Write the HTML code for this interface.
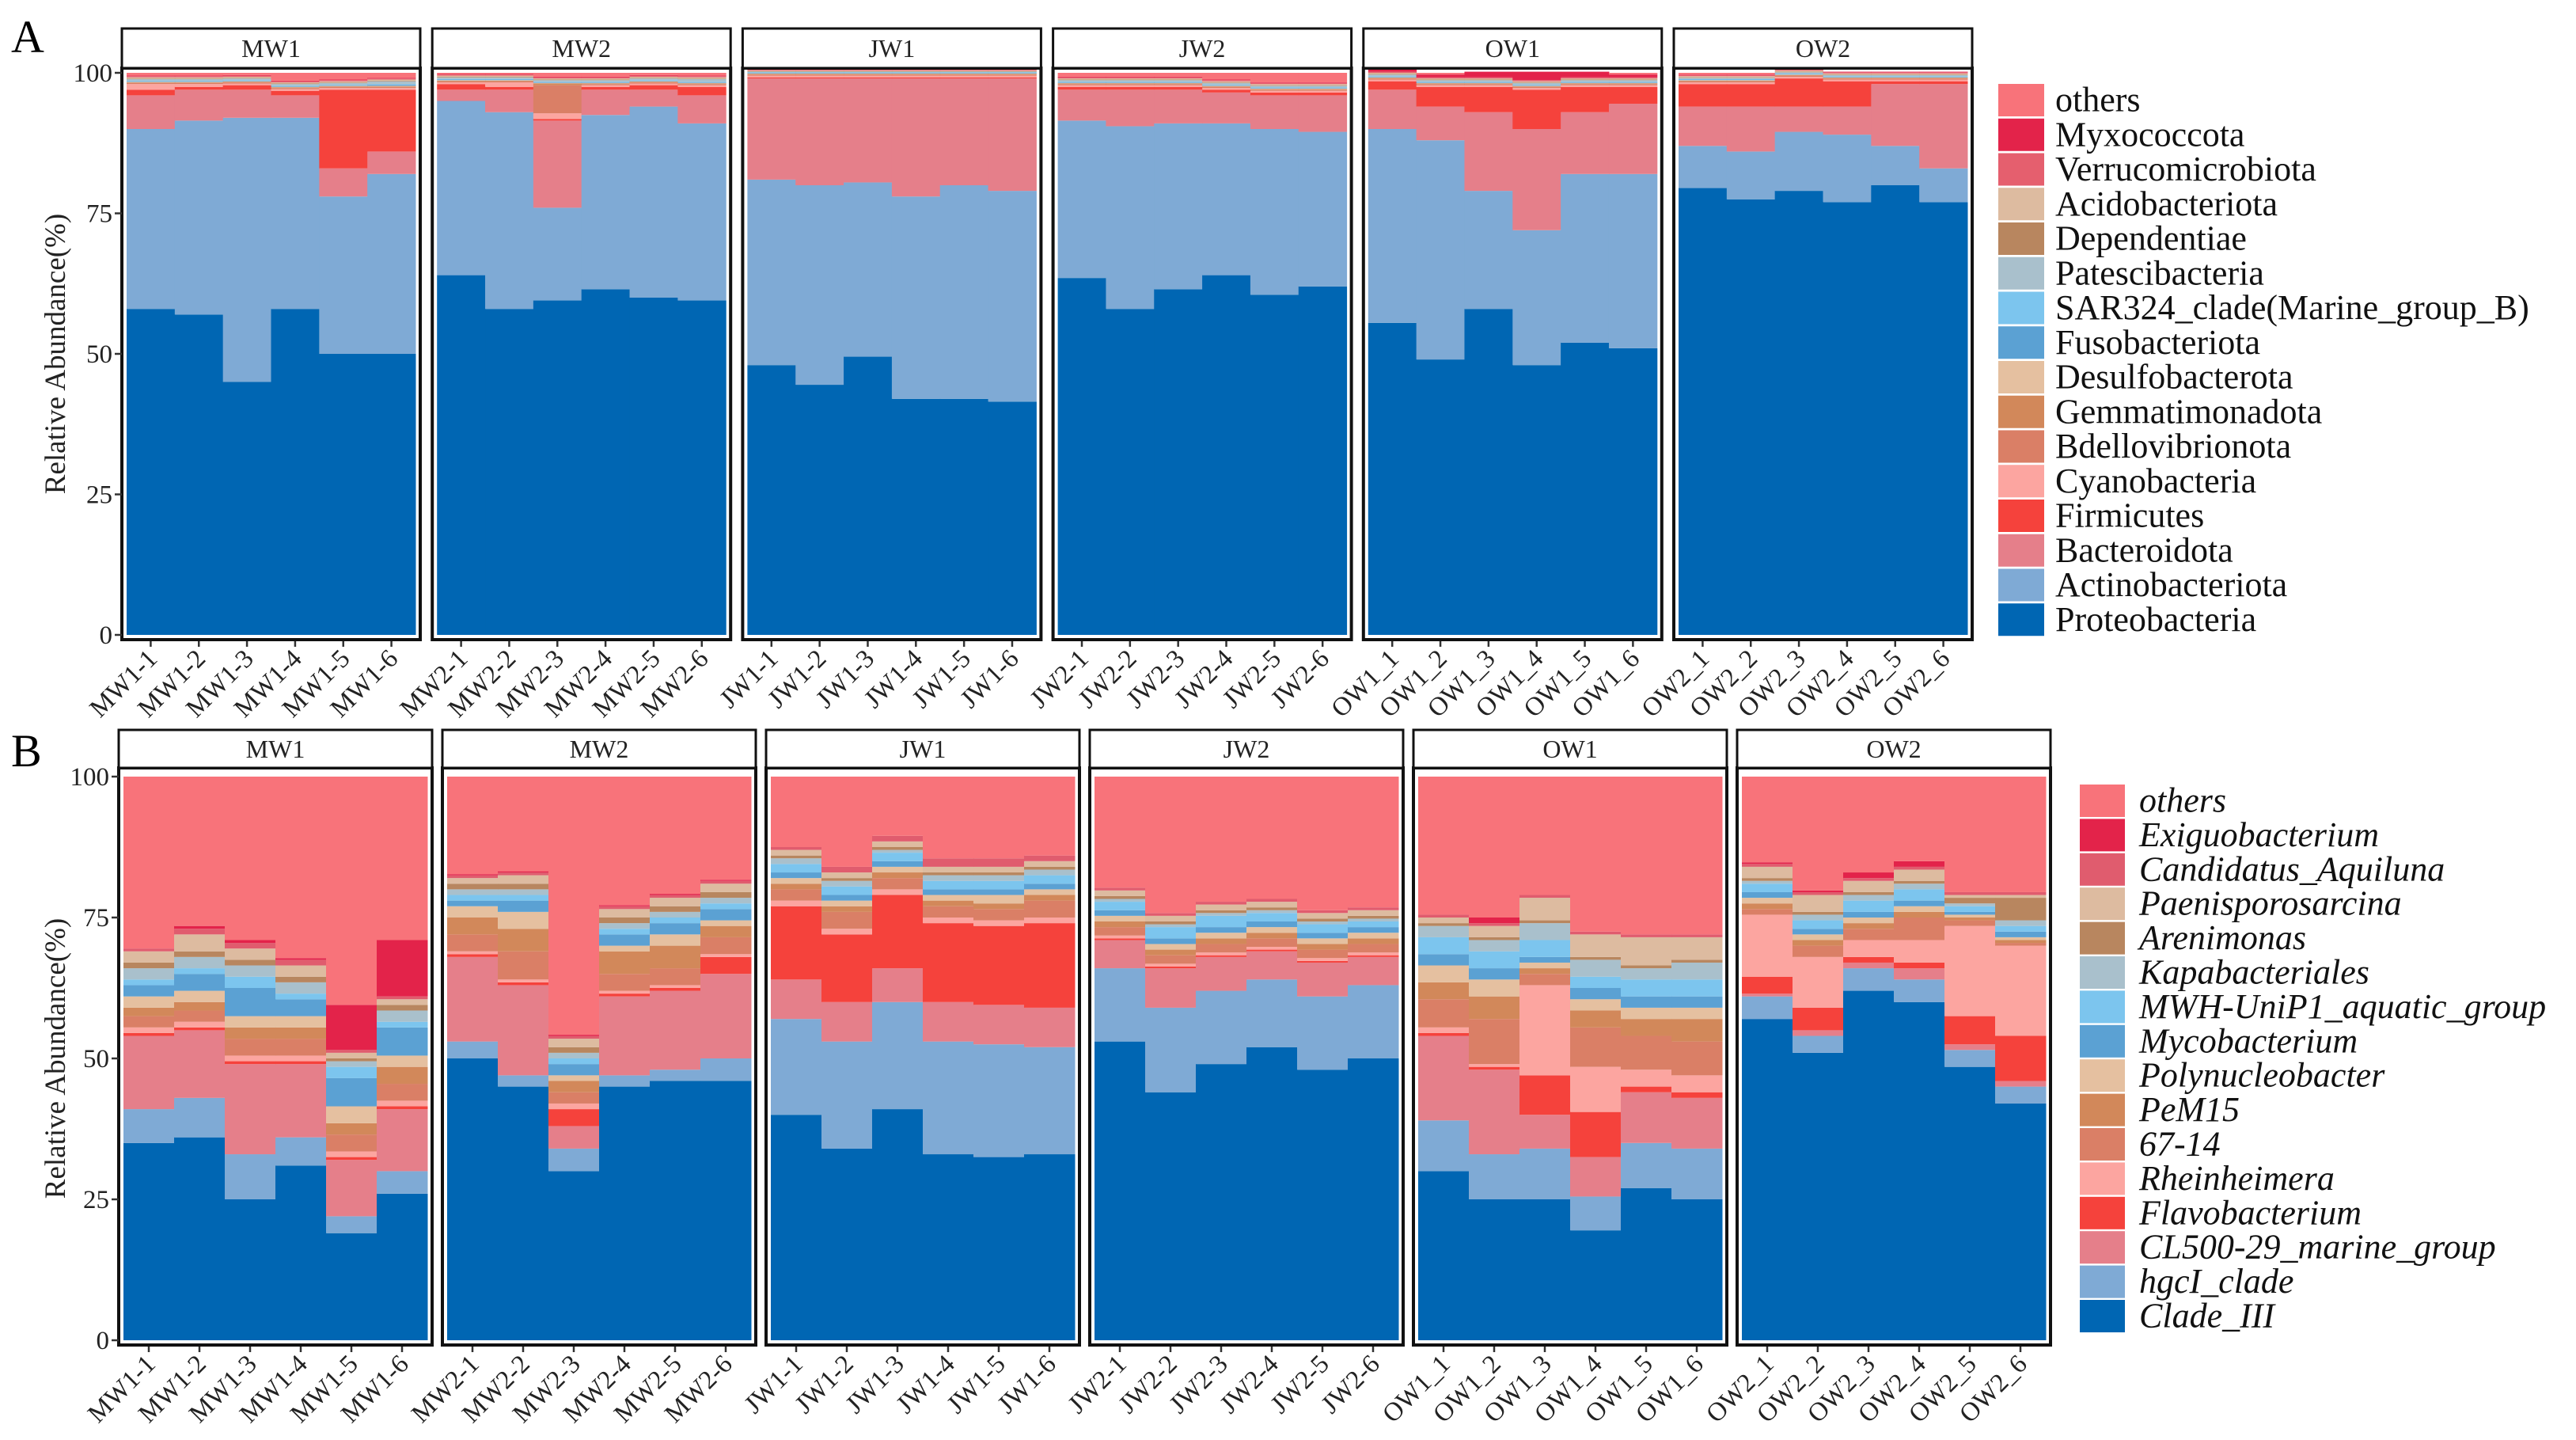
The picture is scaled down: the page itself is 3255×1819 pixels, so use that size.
<!DOCTYPE html>
<html><head><meta charset="utf-8"><style>
html,body{margin:0;padding:0;background:#fff;}
svg{display:block;font-family:"Liberation Serif",serif;}
</style></head><body>
<svg id="fig" width="3255" height="1819" viewBox="0 0 3255 1819" xmlns="http://www.w3.org/2000/svg"></svg>
<script>
// ---------- Panel A data ----------
const groupsA = ["MW1","MW2","JW1","JW2","OW1","OW2"];
const samplesA = ["MW1-1","MW1-2","MW1-3","MW1-4","MW1-5","MW1-6","MW2-1","MW2-2","MW2-3","MW2-4","MW2-5","MW2-6","JW1-1","JW1-2","JW1-3","JW1-4","JW1-5","JW1-6","JW2-1","JW2-2","JW2-3","JW2-4","JW2-5","JW2-6","OW1_1","OW1_2","OW1_3","OW1_4","OW1_5","OW1_6","OW2_1","OW2_2","OW2_3","OW2_4","OW2_5","OW2_6"];
const taxaA = ["Proteobacteria","Actinobacteriota","Bacteroidota","Firmicutes","Cyanobacteria","Bdellovibrionota","Gemmatimonadota","Desulfobacterota","Fusobacteriota","SAR324_clade(Marine_group_B)","Patescibacteria","Dependentiae","Acidobacteriota","Verrucomicrobiota","Myxococcota","others"];
const colorsA = ["#0066b3","#7faad5","#e57f8a","#f5423c","#fca5a0","#da7f66","#d2885a","#e5c0a0","#5ba1d3","#7cc5ee","#a9c0cc","#b8865f","#ddbba0","#e55f6e","#e3234a","#f8737a"];
const proteoA = [58,57,45,58,50,50, 64,58,59.5,61.5,60,59.5, 48,44.5,49.5,42,42,41.5, 63.5,58,61.5,64,60.5,62, 55.5,49,58,48,52,51, 79.5,77.5,79,77,80,77];
const actinoA = [32,34.5,47,34,28,32, 31,35,16.5,31,34,31.5, 33,35.5,31,36,38,37.5, 28,32.5,29.5,27,29.5,27.5, 34.5,39,21,24,30,31, 7.5,8.5,10.5,12,7,6];
const bacteroA = [6,5.5,5,4,5,4, 2,4,15.5,4.5,3,5, 18,19,18.5,21,19,20, 5.5,6.5,6,5.5,6,6.5, 7,6,14,18,11,12.5, 7,8,4.5,5,11,15];
const firmA = [1,0.5,0.8,0.8,14,11, 1,0.5,0.3,0.5,0.8,1.5, 0.2,0.2,0.2,0.2,0.2,0.2, 0.5,0.5,0.5,0.5,0.5,0.5, 1.5,3.5,4.5,7,4.5,3, 4,4,5,4.5,0.5,0.5];
const cyanoA = [1,0.5,0.3,0.3,0.3,0.3, 0.3,0.8,1,0.3,0.3,0.3, 0.3,0.3,0.3,0.3,0.3,0.3, 0.3,0.3,0.3,0.3,0.3,0.3, 0.3,0.3,0.3,0.3,0.3,0.3, 0.3,0.3,0.3,0.3,0.3,0.3];
const bdelloA = [0.2,0.2,0.2,0.2,0.2,0.2, 0.2,0.2,5,0.2,0.2,0.2, 0.2,0.2,0.2,0.2,0.2,0.2, 0.2,0.2,0.2,0.2,0.2,0.2, 0.2,0.2,0.2,0.2,0.2,0.2, 0.2,0.2,0.2,0.2,0.2,0.2];
const gemmA = [0.1,0.1,0.1,0.1,0.1,0.1, 0.1,0.1,0.3,0.1,0.1,0.1, 0.1,0.1,0.1,0.1,0.1,0.1, 0.1,0.1,0.1,0.1,0.1,0.1, 0.1,0.1,0.1,0.1,0.1,0.1, 0.1,0.1,0.1,0.1,0.1,0.1];
const desulfA = [0.1,0.1,0.1,0.1,0.1,0.1, 0.1,0.1,0.1,0.1,0.1,0.1, 0.1,0.1,0.1,0.1,0.1,0.1, 0.1,0.1,0.1,0.1,0.1,0.1, 0.1,0.1,0.1,0.1,0.1,0.1, 0.1,0.1,0.1,0.1,0.1,0.1];
const fusoA = [0.1,0.1,0.1,0.1,0.1,0.2, 0.1,0.1,0.1,0.1,0.1,0.1, 0.1,0.1,0.1,0.1,0.1,0.1, 0.1,0.1,0.1,0.1,0.1,0.1, 0.1,0.1,0.1,0.1,0.1,0.1, 0.1,0.1,0.1,0.1,0.1,0.1];
const sarA = [0.1,0.1,0.1,0.1,0.1,0.1, 0.1,0.1,0.1,0.1,0.1,0.1, 0.1,0.1,0.1,0.1,0.1,0.1, 0.1,0.1,0.1,0.1,0.1,0.1, 0.1,0.1,0.1,0.1,0.1,0.1, 0.1,0.1,0.1,0.1,0.1,0.1];
const patesA = [0.3,0.3,0.3,0.3,0.3,0.5, 0.3,0.3,0.3,0.3,0.3,0.5, 0.1,0.1,0.1,0.1,0.1,0.1, 0.3,0.3,0.3,0.3,0.3,0.3, 0.3,0.3,0.3,0.3,0.3,0.3, 0.2,0.2,0.2,0.2,0.2,0.2];
const dependA = [0.1,0.1,0.1,0.1,0.1,0.1, 0.1,0.1,0.1,0.1,0.1,0.1, 0.1,0.1,0.1,0.1,0.1,0.1, 0.1,0.1,0.1,0.1,0.1,0.1, 0.1,0.1,0.1,0.1,0.1,0.1, 0.1,0.1,0.1,0.1,0.1,0.1];
const acidoA = [0.2,0.2,0.2,0.2,0.2,0.2, 0.2,0.2,0.2,0.2,0.2,0.2, 0.1,0.1,0.1,0.1,0.1,0.1, 0.2,0.2,0.2,0.2,0.2,0.2, 0.2,0.2,0.2,0.2,0.2,0.2, 0.2,0.2,0.2,0.2,0.2,0.2];
const verruA = [0.2,0.2,0.2,0.2,0.2,0.2, 0.2,0.2,0.2,0.2,0.2,0.2, 0.2,0.2,0.2,0.2,0.2,0.2, 0.2,0.2,0.2,0.2,0.2,0.2, 0.2,0.2,0.2,0.2,0.2,0.2, 0.2,0.2,0.2,0.2,0.2,0.2];
const myxoA = [0.1,0.1,0.1,0.1,0.1,0.1, 0.1,0.1,0.1,0.1,0.1,0.1, 0.1,0.1,0.1,0.1,0.1,0.1, 0.1,0.1,0.1,0.1,0.1,0.1, 1,0.5,1,1.5,1,0.5, 0.1,0.1,0.1,0.1,0.1,0.1];

// ---------- Panel B data ----------
const groupsB = ["MW1","MW2","JW1","JW2","OW1","OW2"];
const samplesB = samplesA.slice();
const taxaB = ["Clade_III","hgcI_clade","CL500-29_marine_group","Flavobacterium","Rheinheimera","67-14","PeM15","Polynucleobacter","Mycobacterium","MWH-UniP1_aquatic_group","Kapabacteriales","Arenimonas","Paenisporosarcina","Candidatus_Aquiluna","Exiguobacterium","others"];
const colorsB = ["#0066b3","#7faad5","#e57f8a","#f5423c","#fca5a0","#da7f66","#d2885a","#e5c0a0","#5ba1d3","#7cc5ee","#a9c0cc","#b8865f","#ddbba0","#e05c6e","#e3234a","#f8737a"];
const cladeB = [35,36,25,31,19,26, 50,45,30,45,46,46, 40,34,41,33,32.5,33, 53,44,49,52,48,50, 30,25,25,19.5,27,25, 57,51,62,60,48.5,42];
const hgciB = [6,7,8,5,3,4, 3,2,4,2,2,4, 17,19,19,20,20,19, 13,15,13,12,13,13, 9,8,9,6,8,9, 4,3,4,4,3,3];
const cl500B = [13,12,16,13,10,11, 15,16,4,14,14,15, 7,7,6,7,7,7, 5,7,6,5,6,5, 15,15,6,7,9,9, 0.5,1,1,2,1,1];
const flavoB = [0.5,0.5,0.5,0.5,0.5,0.5, 0.5,0.5,3,0.5,0.5,3, 13,12,13,14,14,15, 0.3,0.3,0.3,0.3,0.3,0.3, 0.5,0.5,7,8,1,1, 3,4,1,1,5,8];
const rheinB = [1,1,1,1,1,1, 0.5,0.5,1,0.5,0.5,0.5, 1,1,1,1,1,1, 0.5,0.5,0.5,0.5,0.5,0.5, 1,0.5,16,8,3,3, 11,9,3,4,16,16];
const b6714B = [2,2,3,3,3,3, 3,5,2,3,3,3, 2,3,2,2,2,3, 1.5,1.5,1.5,1.5,1.5,1.5, 5,8,2,7,6,6, 1,2,2,4,1,0.5];
const pem15B = [1.5,1.5,2,2,2,3, 3,4,2,4,4,2, 1,1,1,1,1,1, 1,1,1,1,1,1, 3,4,1,3,3,4, 1,1,1,1,0.5,0.5];
const polyB = [2,2,2,2,3,2, 2,3,1,1,2,1, 1,1,1,1,1.5,1, 1,1,1,1,1,1, 3,3,1,2,2,2, 1,1,1,1,0.5,0.5];
const mycoB = [2,3,5,3,5,5, 1,2,2,2,2,2, 1,1,1,1,1,1, 1,1,1,1,1,1, 2,2,1,2,2,2, 1,1,1,1,0.5,1];
const mwhB = [1,1,2,1,2,1, 1,1,1,1,1,1, 1.5,1.5,1.5,1.5,1.5,1.5, 1.5,2,2,1.5,1.5,1, 3,3,3,2,3,3, 1.5,1.5,2,2,1,1];
const kapaB = [2,2,2,2,1,2, 1,1,1,1,1,1, 1,1,0.5,1,1,1, 0.5,0.5,0.5,0.5,0.5,0.5, 2,2,3,3,2,3, 0.5,1,1,1,0.5,1];
const arenB = [1,1,1,1,0.5,1, 1,1,1,1,1,1, 0.5,0.5,0.5,0.5,0.5,0.5, 0.5,0.5,0.5,0.5,0.5,0.5, 0.5,0.5,0.5,0.5,0.5,0.5, 0.5,0.5,0.5,0.5,1,4];
const paenB = [2,3,2,2,1,1, 1,1.5,1.5,1.5,1.5,1.5, 1,1,1,1,1,1, 1,1,1,1,1,1, 1,2,4,4,5,4, 2,3,2,2,0.5,0.5];
const candB = [0.5,1,1,1,0.5,0.5, 0.5,0.5,0.5,0.5,0.5,0.5, 0.5,1,1,1.5,1.5,1, 0.5,0.5,0.5,0.5,0.5,0.5, 0.5,0.5,0.5,0.5,0.5,0.5, 0.5,0.5,0.5,0.5,0.5,0.5];
const exigB = [0,0.5,0.5,0.3,8,10, 0.2,0.2,0.2,0.2,0.2,0.2, 0,0,0,0,0,0, 0,0,0,0,0,0, 0,1,0,0,0,0, 0.3,0.3,1,1,0,0];

const seriesA = [proteoA,actinoA,bacteroA,firmA,cyanoA,bdelloA,gemmA,desulfA,fusoA,sarA,patesA,dependA,acidoA,verruA,myxoA];
const seriesB = [cladeB,hgciB,cl500B,flavoB,rheinB,b6714B,pem15B,polyB,mycoB,mwhB,kapaB,arenB,paenB,candB,exigB];
const yTicks = [0,25,50,75,100];

const NS="http://www.w3.org/2000/svg";
const svg=document.getElementById('fig');
function mk(tag,attrs,parent){const e=document.createElementNS(NS,tag);for(const k in attrs)e.setAttribute(k,attrs[k]);(parent||svg).appendChild(e);return e;}

function drawPanel(cfg){
  const {groups,samples,series,taxa,colors,left0,pitch,w,stripTop,stripBot,plotTop,plotBot,y0,y100,inset,letter,letterY,legX,legTop,legPitch,swW,swH,textX,italic,pid}=cfg;
  const yScale=v=>y0-(v/100)*(y0-y100);
  const g=mk('g',{});
  
  
  const L=mk('text',{x:14,y:letterY,'font-size':58},g);L.textContent=letter;
  
  
  groups.forEach((grp,gi)=>{
    const px=left0+gi*pitch;
    const bw=(w-2*inset)/6;
    for(let j=0;j<6;j++){
      const si=gi*6+j;
      let cum=0;
      const x=px+inset+j*bw;
      series.forEach((arr,k)=>{
        const v=arr[si];
        const r=mk('rect',{x:x,y:yScale(cum+v),width:bw+0.5,height:Math.max(0,yScale(cum)-yScale(cum+v)),fill:colors[k]},g);
        
        
        cum+=v;
      });
      const r=mk('rect',{x:x,y:yScale(100),width:bw+0.5,height:Math.max(0,yScale(cum)-yScale(100)),fill:colors[15]},g);
      
      
      const tx=x+bw/2;
      const t=mk('line',{x1:tx,x2:tx,y1:plotBot,y2:plotBot+9,stroke:'#333','stroke-width':2.5},g);
      
      
      const lab=mk('text',{x:tx+10,y:plotBot+26,'font-size':33,'text-anchor':'end',transform:`rotate(-45 ${tx+10} ${plotBot+26})`,fill:'#222'},g);
      lab.textContent=samples[si];
      
      
    }
    const b=mk('rect',{x:px,y:plotTop,width:w,height:plotBot-plotTop,fill:'none',stroke:'#111','stroke-width':4},g);
    
    
    const s=mk('rect',{x:px,y:stripTop,width:w,height:stripBot-stripTop,fill:'#fff',stroke:'#111','stroke-width':3},g);
    
    
    const st=mk('text',{x:px+w/2,y:(stripTop+stripBot)/2+11,'font-size':32,'text-anchor':'middle',fill:'#222'},g);
    st.textContent=grp;
    
    
  });
  yTicks.forEach(v=>{
    const y=yScale(v);
    const t=mk('line',{x1:left0-9,x2:left0,y1:y,y2:y,stroke:'#333','stroke-width':2.5},g);
    
    
    const l=mk('text',{x:left0-12,y:y+11,'font-size':33,'text-anchor':'end',fill:'#222'},g);
    l.textContent=v;
    
    
  });
  const cy=(y0+y100)/2;
  const yt=mk('text',{x:82,y:cy,'font-size':37,'text-anchor':'middle',transform:`rotate(-90 82 ${cy})`,fill:'#222'},g);
  yt.textContent='Relative Abundance(%)';
  
  
  for(let i=0;i<16;i++){
    const k=15-i;
    const y=legTop+i*legPitch;
    const sw=mk('rect',{x:legX,y:y,width:swW,height:swH,fill:colors[k]},g);
    
    
    const tt=mk('text',{x:textX,y:y+swH/2+14,'font-size':44,fill:'#111','font-style':italic?'italic':'normal'},g);
    tt.textContent=k===15?'others':taxa[k];
    
    
  }
}
drawPanel({pid:'a',groups:groupsA,samples:samplesA,series:seriesA,taxa:taxaA,colors:colorsA,left0:154,pitch:392.2,w:377,stripTop:36,stripBot:86,plotTop:86,plotBot:808,y0:802,y100:92,inset:6,letter:'A',letterY:66,legX:2525,legTop:106,legPitch:43.75,swW:58,swH:41,textX:2597,italic:false});
drawPanel({pid:'b',groups:groupsB,samples:samplesB,series:seriesB,taxa:taxaB,colors:colorsB,left0:150,pitch:409,w:396,stripTop:922,stripBot:970,plotTop:970,plotBot:1699,y0:1693,y100:981,inset:6,letter:'B',letterY:968,legX:2628,legTop:991,legPitch:43.4,swW:57,swH:41,textX:2703,italic:true});
</script>
</body></html>
